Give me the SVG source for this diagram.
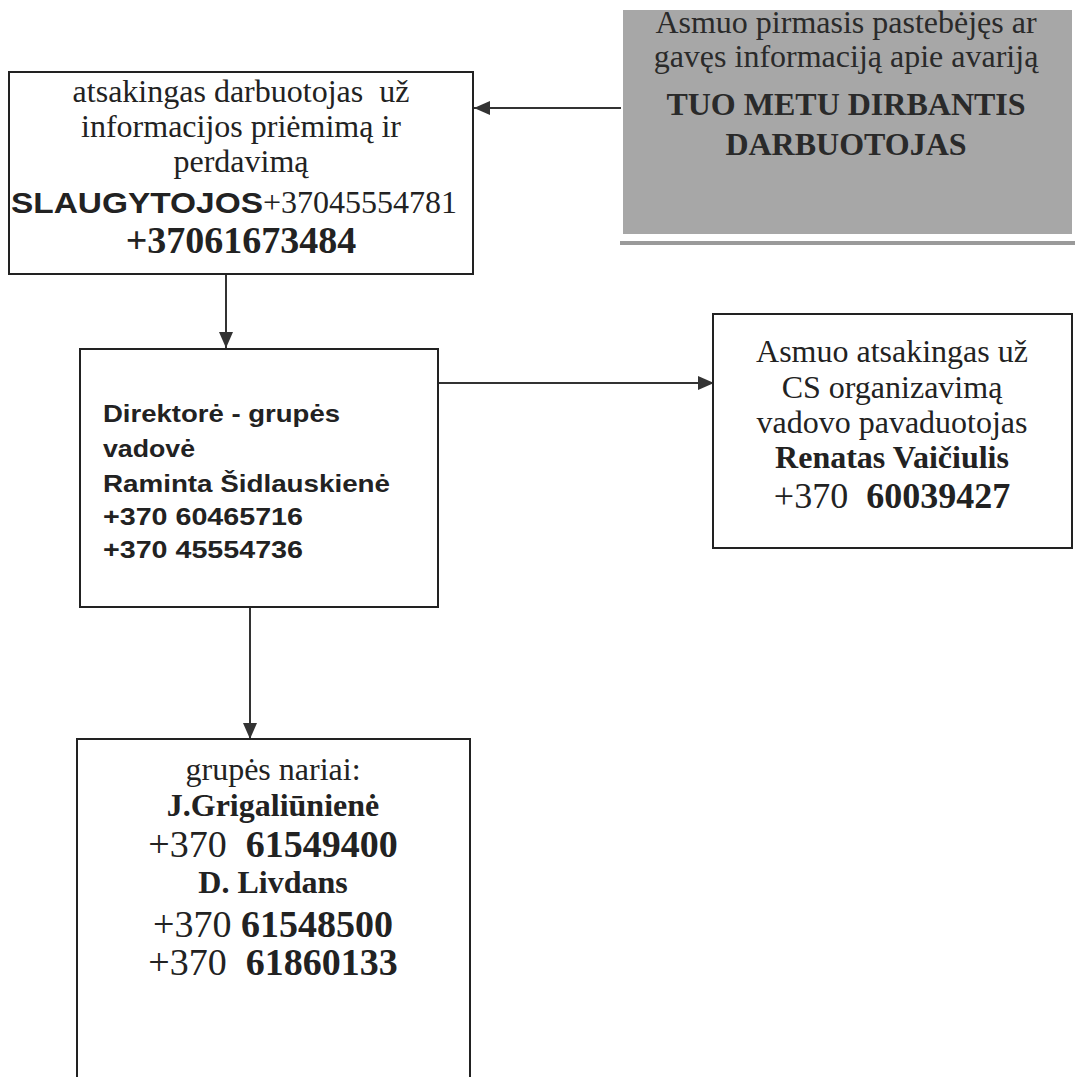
<svg xmlns="http://www.w3.org/2000/svg" width="1075" height="1077" viewBox="0 0 1075 1077">
<style>
.box{fill:#fff;stroke:#222;stroke-width:2}
.ser{font-family:"Liberation Serif","Times New Roman",serif;fill:#222;font-size:32px}
.b{font-weight:bold}
.sans{font-family:"Liberation Sans",Arial,sans-serif;font-weight:bold;fill:#222}
.conn{stroke:#333;stroke-width:2;fill:none;marker-end:url(#ah)}
</style>
<defs>
<marker id="ah" markerUnits="userSpaceOnUse" markerWidth="16" markerHeight="14" refX="16" refY="7" orient="auto">
<path d="M0,0 L16,7 L0,14 z" fill="#333"/>
</marker>
</defs>
<rect width="1075" height="1077" fill="#fff"/>

<g id="connectors">
<line class="conn" x1="621" y1="108" x2="474" y2="108"/>
<line class="conn" x1="226" y1="274" x2="226" y2="348"/>
<line class="conn" x1="422" y1="383" x2="714" y2="383"/>
<line class="conn" x1="250" y1="595" x2="250" y2="739"/>
</g>

<g id="node-first-person">
<rect x="623" y="10" width="449" height="224" fill="#a7a7a7"/>
<rect x="620" y="241" width="455" height="4" fill="#9a9a9a"/>
<text class="ser" x="846" y="33" text-anchor="middle" style="fill:#2a2a2a">Asmuo pirmasis pastebėjęs ar</text>
<text class="ser" x="846" y="67" text-anchor="middle" style="fill:#2a2a2a">gavęs informaciją apie avariją</text>
<text class="ser b" x="846" y="115" text-anchor="middle" style="fill:#2a2a2a">TUO METU DIRBANTIS</text>
<text class="ser b" x="846" y="155" text-anchor="middle" style="fill:#2a2a2a">DARBUOTOJAS</text>
</g>

<g id="node-responsible">
<rect class="box" x="9" y="72" width="464" height="202"/>
<text class="ser" x="241" y="102" text-anchor="middle" xml:space="preserve">atsakingas darbuotojas  už</text>
<text class="ser" x="241" y="137" text-anchor="middle">informacijos priėmimą ir</text>
<text class="ser" x="241" y="172" text-anchor="middle">perdavimą</text>
<text class="sans" x="11" y="213" font-size="30" textLength="252" lengthAdjust="spacingAndGlyphs">SLAUGYTOJOS</text>
<text class="ser" x="263" y="213">+37045554781</text>
<text class="ser b" x="241" y="253" text-anchor="middle" style="font-size:38px">+37061673484</text>
</g>

<g id="node-director">
<rect class="box" x="80" y="349" width="358" height="258"/>
<text class="sans" x="103" y="422" font-size="24" textLength="237" lengthAdjust="spacingAndGlyphs">Direktorė - grupės</text>
<text class="sans" x="103" y="457" font-size="24" textLength="92" lengthAdjust="spacingAndGlyphs">vadovė</text>
<text class="sans" x="103" y="492" font-size="24" textLength="287" lengthAdjust="spacingAndGlyphs">Raminta Šidlauskienė</text>
<text class="sans" x="103" y="525" font-size="24" textLength="200" lengthAdjust="spacingAndGlyphs">+370 60465716</text>
<text class="sans" x="103" y="558" font-size="24" textLength="200" lengthAdjust="spacingAndGlyphs">+370 45554736</text>
</g>

<g id="node-cs">
<rect class="box" x="713" y="314" width="359" height="234"/>
<text class="ser" x="892" y="362" text-anchor="middle">Asmuo atsakingas už</text>
<text class="ser" x="892" y="398" text-anchor="middle">CS organizavimą</text>
<text class="ser" x="892" y="433" text-anchor="middle">vadovo pavaduotojas</text>
<text class="ser b" x="892" y="468" text-anchor="middle">Renatas Vaičiulis</text>
<text class="ser" x="892" y="508" text-anchor="middle" style="font-size:36px" xml:space="preserve">+370  <tspan class="b">60039427</tspan></text>
</g>

<g id="node-members">
<rect class="box" x="77" y="739" width="393" height="400"/>
<text class="ser" x="273" y="780" text-anchor="middle">grupės nariai:</text>
<text class="ser b" x="273" y="816" text-anchor="middle">J.Grigaliūnienė</text>
<text class="ser" x="273" y="857" text-anchor="middle" style="font-size:38px" xml:space="preserve">+370  <tspan class="b">61549400</tspan></text>
<text class="ser b" x="273" y="893" text-anchor="middle">D. Livdans</text>
<text class="ser" x="273" y="937" text-anchor="middle" style="font-size:38px">+370 <tspan class="b">61548500</tspan></text>
<text class="ser" x="273" y="975" text-anchor="middle" style="font-size:38px" xml:space="preserve">+370  <tspan class="b">61860133</tspan></text>
</g>
</svg>
